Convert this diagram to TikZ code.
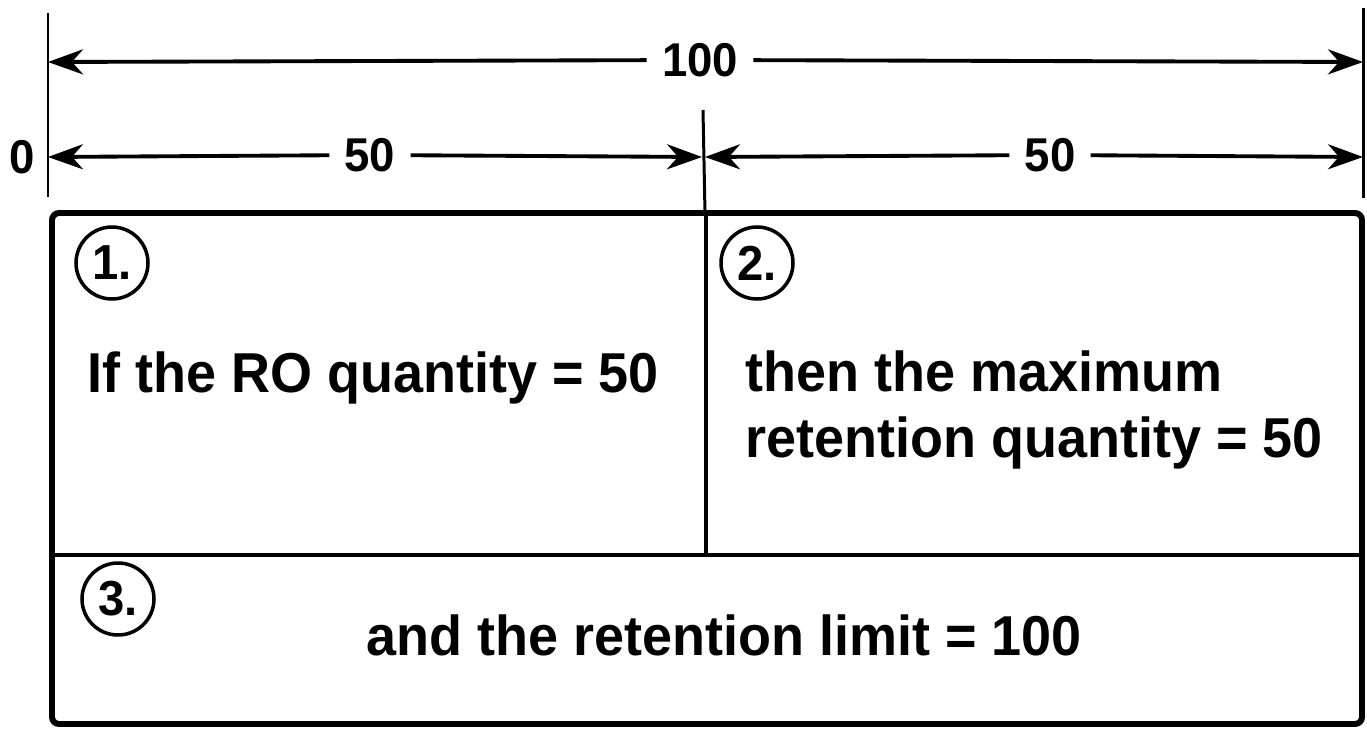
\documentclass[tikz,border=0pt]{standalone}
\usepackage{fontspec}
\setmainfont{Liberation Sans}[FakeStretch=0.96]
\usetikzlibrary{arrows.meta,positioning}

\begin{document}
\begin{tikzpicture}[x=0.02cm, y=-0.02cm,
    dim/.style={-{Stealth[length=0.7cm, width=0.5cm, inset=0.22cm]}, line width=2.2pt},
    extline/.style={line width=1.7pt},
    frame/.style={line width=3.4pt, rounded corners=4pt},
    dimlabel/.style={font=\bfseries\fontsize{27}{30}\selectfont, inner xsep=0.3cm, inner ysep=0pt},
    numcircle/.style={draw, circle, line width=2pt, minimum size=1.44cm, inner sep=0pt,
      font=\bfseries\fontsize{28}{28}\selectfont},
    boxtext/.style={font=\bfseries\fontsize{32}{37}\selectfont, align=left, inner sep=0pt}
  ]
    \useasboundingbox (0,0) rectangle (1367,730);

    % extension lines
    \coordinate (ltop) at (48,13);   \coordinate (lbot) at (48,197);
    \coordinate (rtop) at (1363,8);  \coordinate (rbot) at (1363,198);
    \coordinate (mtop) at (703,110); \coordinate (mbot) at (705,213);
    \draw[extline] (ltop) -- (lbot);
    \draw[extline] (rtop) -- (rbot);
    \draw[extline] (mtop) -- (mbot);

    % dimension arrows
    \coordinate (topl) at (48,62);  \coordinate (topr) at (1363,62);
    \coordinate (lowl) at (48,157); \coordinate (lowr) at (1363,157);
    \coordinate (lowml) at (702,157); \coordinate (lowmr) at (705,157);
    \node[dimlabel] (full) at (700,60) {100};
    \node[dimlabel] (halfl) at (370,155) {50};
    \node[dimlabel] (halfr) at (1050,155) {50};
    \node[dimlabel, inner xsep=0pt, left=0.25cm of lowl] (zero) {0};
    \draw[dim] (full) -- (topl);
    \draw[dim] (full) -- (topr);
    \draw[dim] (halfl) -- (lowl);
    \draw[dim] (halfl) -- (lowml);
    \draw[dim] (halfr) -- (lowmr);
    \draw[dim] (halfr) -- (lowr);

    % the box
    \coordinate (bnw) at (52,213);  \coordinate (bse) at (1362,724);
    \coordinate (midl) at (52,555); \coordinate (midr) at (1362,555);
    \coordinate (divt) at (706,213); \coordinate (divb) at (706,555);
    \draw[frame] (bnw) rectangle (bse);
    \draw[line width=2.8pt] (midl) -- (midr);
    \draw[line width=2.2pt] (divt) -- (divb);

    \node[numcircle] (one) at (112,263) {1.};
    \node[numcircle] (two) at (757,263) {2.};
    \node[numcircle] (three) at (118,599) {3.};

    \node[boxtext, anchor=base west] (ifro) at (87,392) {If the RO quantity = 50};
    \node[boxtext, anchor=base west] (thenmax) at (745,457) {then the maximum\\retention quantity = 50};
    \node[boxtext, anchor=base] (andlim) at (724,655) {and the retention limit = 100};
\end{tikzpicture}
\end{document}
